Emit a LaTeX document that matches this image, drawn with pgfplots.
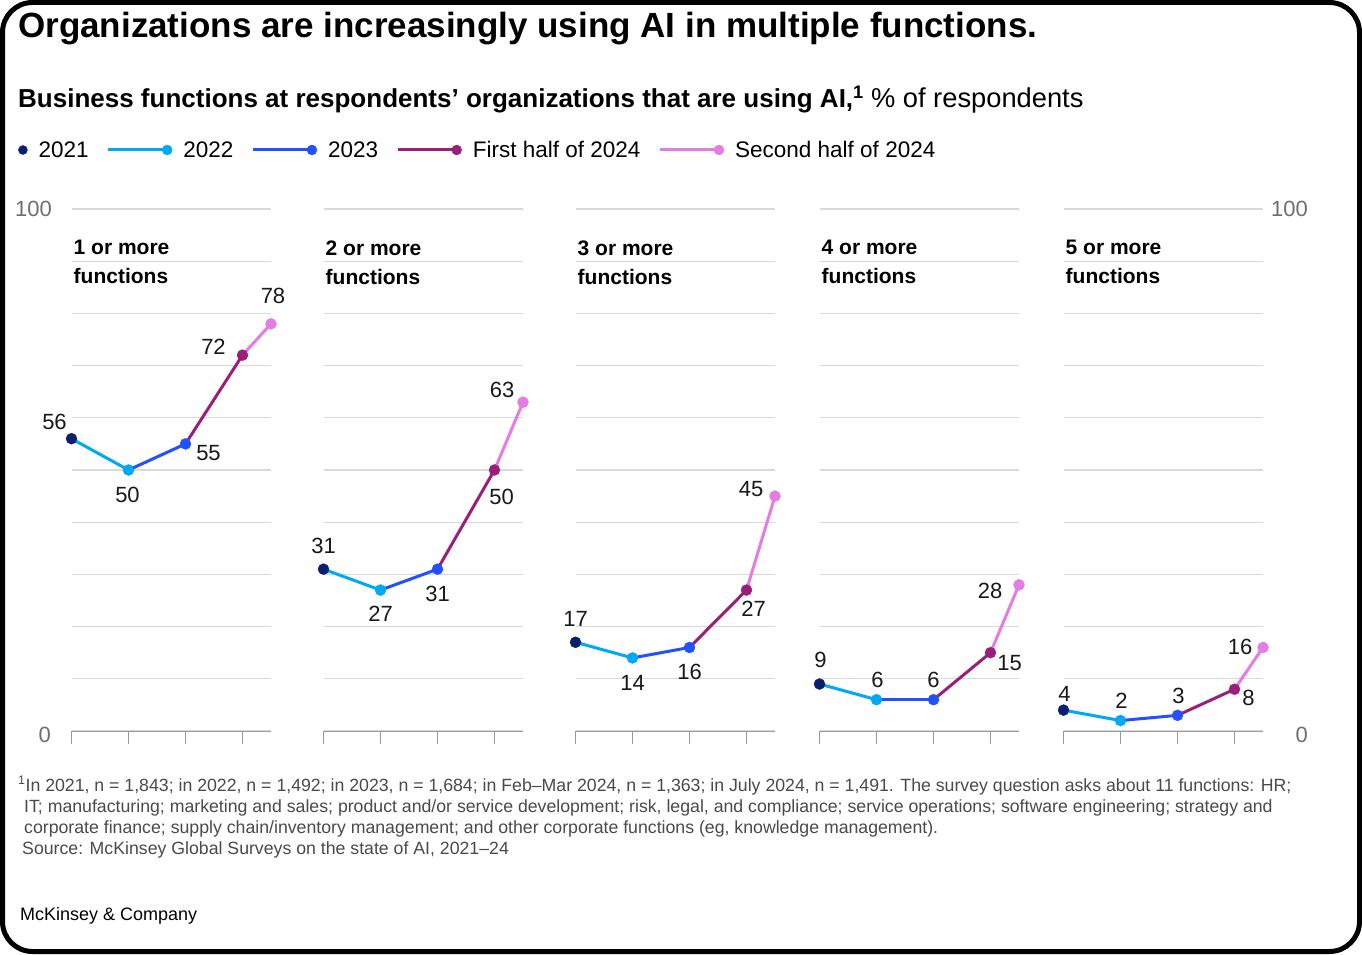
\documentclass[border=0pt]{standalone}
\usepackage{fontspec}
\setmainfont{Liberation Sans}
\usepackage{pgfplots}
\pgfplotsset{compat=1.18}

\definecolor{c21}{HTML}{0A1F6E}
\definecolor{c22}{HTML}{00A9F4}
\definecolor{c23}{HTML}{2251FF}
\definecolor{cha}{HTML}{9A1F7A}
\definecolor{chb}{HTML}{E47DE3}
\definecolor{gridc}{HTML}{D9D9D9}
\definecolor{axisc}{HTML}{9A9A9A}
\definecolor{tickc}{HTML}{6E6E6E}
\definecolor{notec}{HTML}{4A4A4A}

\pgfplotsset{
  panel/.style={
    anchor=south west, scale only axis,
    width=199.5pt, height=522pt,
    xmin=0, xmax=3.5, ymin=0, ymax=100,
    clip=false,
    axis x line*=bottom, axis y line*=left,
    x axis line style={draw=axisc, line width=1pt},
    y axis line style={draw=none},
    xtick={0,1,2,3}, xticklabels={},
    xtick align=outside, major tick length=13pt,
    major x tick style={draw=axisc, line width=1pt},
    ytick={0,10,...,100}, yticklabels={},
    major y tick style={draw=none},
    ymajorgrids, grid style={draw=gridc, line width=1.3pt},
  },
  seg/.style={line width=3pt, mark=none, forget plot},
  dot/.style={only marks, mark=*, mark size=5.5pt, forget plot},
}
\tikzset{
  lab/.style={inner sep=0pt, font=\fontsize{22}{26}\selectfont, text=black!90},
  ttl/.style={inner sep=0pt, anchor=north west, align=left,
    font=\fontsize{21}{29}\selectfont\bfseries},
  tl/.style={inner sep=0pt, anchor=east, font=\fontsize{22}{26}\selectfont, text=tickc},
}

% \lab{dx}{dy}{x,y}{text}: dx, dy in pixels of the picture, dy downwards
\newcommand\lab[4]{\node[lab, xshift=#1pt, yshift=-#2pt] at (axis cs:#3) {#4};}

% \panel{x origin}{2021}{2022}{2023}{H1 2024}{H2 2024}{title}{labels}
\newcommand\panel[8]{%
\begin{axis}[panel, at={(#1pt,223pt)}]
\addplot[seg, c22] coordinates {(0,#2) (1,#3)};
\addplot[seg, c23] coordinates {(1,#3) (2,#4)};
\addplot[seg, cha] coordinates {(2,#4) (3,#5)};
\addplot[seg, chb] coordinates {(3,#5) (3.5,#6)};
\addplot[dot, c21] coordinates {(0,#2)};
\addplot[dot, c22] coordinates {(1,#3)};
\addplot[dot, c23] coordinates {(2,#4)};
\addplot[dot, cha] coordinates {(3,#5)};
\addplot[dot, chb] coordinates {(3.5,#6)};
\node[ttl, xshift=2pt] at (axis cs:0,94.0) {#7};
#8
\end{axis}}

\begin{document}
\begin{tikzpicture}[x=1pt, y=1pt]
\path[use as bounding box] (0,0) rectangle (1362,954);
\fill[white] (0,0) rectangle (1362,954);

% titles
\node[anchor=base west, inner sep=0pt, font=\fontsize{35}{40}\selectfont\bfseries]
  at (18,916) {Organizations are increasingly using AI in multiple functions.};
\node[anchor=base west, inner sep=0pt, font=\fontsize{26}{30}\selectfont]
  at (18,846) {\textbf{Business functions at respondents’ organizations that are using AI,\textsuperscript{1}} {\fontsize{27.3}{30}\selectfont\% of respondents}};

% legend
\begin{axis}[hide axis, scale only axis, anchor=south west, at={(71.5pt,223pt)},
  width=199.5pt, height=522pt, xmin=0, xmax=1, ymin=0, ymax=1,
  legend columns=-1,
  legend style={at={(-0.268,1.113)}, anchor=west, draw=none, fill=none,
    inner sep=0pt, font=\fontsize{22.5}{26}\selectfont,
    /tikz/every odd column/.append style={column sep=9pt},
    /tikz/every even column/.append style={column sep=16pt}},
  legend cell align=left]
\addlegendimage{legend image code/.code={\fill[c21] (0pt,0pt) circle (4.5pt);}}
\addlegendentry{2021}
\addlegendimage{legend image code/.code={\draw[c22, line width=3pt] (0pt,0pt) -- (59pt,0pt); \fill[c22] (59pt,0pt) circle (5pt);}}
\addlegendentry{2022}
\addlegendimage{legend image code/.code={\draw[c23, line width=3pt] (0pt,0pt) -- (59pt,0pt); \fill[c23] (59pt,0pt) circle (5pt);}}
\addlegendentry{2023}
\addlegendimage{legend image code/.code={\draw[cha, line width=3pt] (0pt,0pt) -- (59pt,0pt); \fill[cha] (59pt,0pt) circle (5pt);}}
\addlegendentry{First half of 2024}
\addlegendimage{legend image code/.code={\draw[chb, line width=3pt] (0pt,0pt) -- (59pt,0pt); \fill[chb] (59pt,0pt) circle (5pt);}}
\addlegendentry{Second half of 2024}
\end{axis}

% panels
\panel{71.5}{56}{50}{55}{72}{78}{1 or more\\functions}{%
  \lab{-17}{-17}{0,56}{56}\lab{-1}{25}{1,50}{50}\lab{23}{9}{2,55}{55}%
  \lab{-29}{-8}{3,72}{72}\lab{2}{-28}{3.5,78}{78}}
\panel{323.5}{31}{27}{31}{50}{63}{2 or more\\functions}{%
  \lab{0}{-23}{0,31}{31}\lab{0}{24}{1,27}{27}\lab{0}{25}{2,31}{31}%
  \lab{7}{27}{3,50}{50}\lab{-21}{-12}{3.5,63}{63}}
\panel{575.5}{17}{14}{16}{27}{45}{3 or more\\functions}{%
  \lab{0}{-23}{0,17}{17}\lab{0}{25}{1,14}{14}\lab{0}{24}{2,16}{16}%
  \lab{7}{19}{3,27}{27}\lab{-24}{-7}{3.5,45}{45}}
\panel{819.5}{9}{6}{6}{15}{28}{4 or more\\functions}{%
  \lab{1}{-24}{0,9}{9}\lab{1}{-20}{1,6}{6}\lab{0}{-20}{2,6}{6}%
  \lab{19}{10}{3,15}{15}\lab{-29}{6}{3.5,28}{28}}
\panel{1063.5}{4}{2}{3}{8}{16}{5 or more\\functions}{%
  \lab{1}{-16}{0,4}{4}\lab{1}{-20}{1,2}{2}\lab{1}{-19}{2,3}{3}%
  \lab{14}{9}{3,8}{8}\lab{-23}{-1}{3.5,16}{16}}

% y-axis end labels
\node[tl] at (52,745) {100};
\node[tl] at (51,219) {0};
\node[tl] at (1308,745) {100};
\node[tl] at (1308,219) {0};

% notes
\begin{scope}[every node/.style={anchor=base west, inner sep=0pt,
    font=\fontsize{17.7}{21}\selectfont, text=notec}]
\node at (18,163) {\textsuperscript{1}In 2021, n = 1,843; in 2022, n = 1,492; in 2023, n = 1,684; in Feb--Mar 2024, n = 1,363; in July 2024, n = 1,491. The survey question asks about 11 functions: HR;};
\node at (24,142) {IT; manufacturing; marketing and sales; product and/or service development; risk, legal, and compliance; service operations; software engineering; strategy and};
\node at (24,121) {corporate finance; supply chain/inventory management; and other corporate functions (eg, knowledge management).};
\node at (22,100) {Source: McKinsey Global Surveys on the state of AI, 2021--24};
\end{scope}
\node[anchor=base west, inner sep=0pt, font=\fontsize{18}{21}\selectfont] at (20,34) {McKinsey \& Company};

% frame
\draw[line width=5pt, rounded corners=30pt] (2.5,2.5) rectangle (1359.5,951.5);
\end{tikzpicture}
\end{document}
